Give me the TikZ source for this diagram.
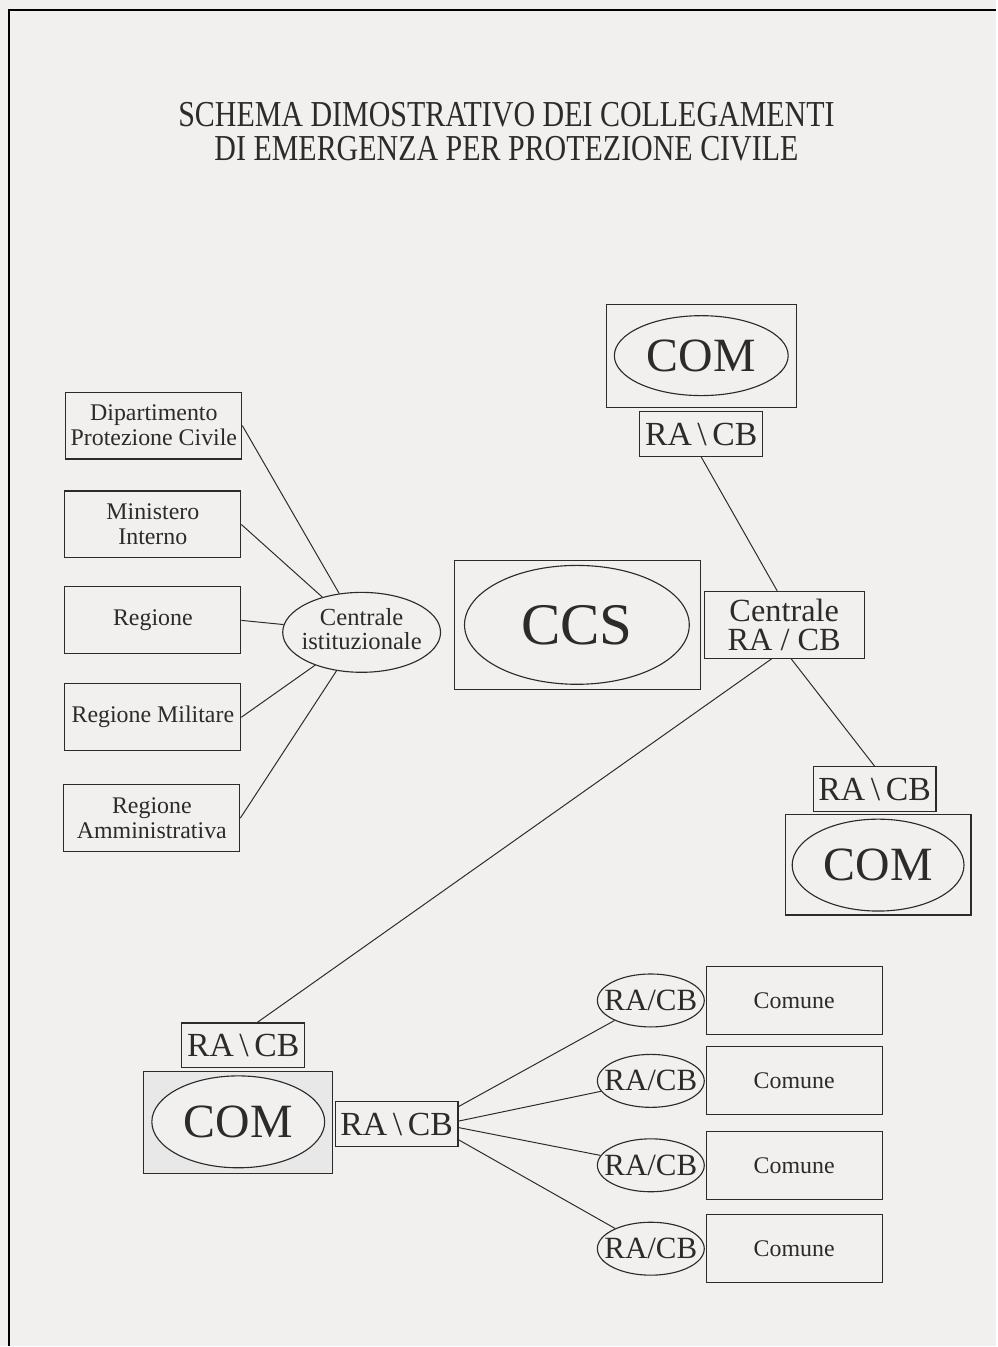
\documentclass[tikz,border=0pt]{standalone}
\usepackage{fontspec}
\setmainfont{Liberation Serif}
\usetikzlibrary{shapes.geometric}
\definecolor{paper}{HTML}{F2F0EE}
\definecolor{ink}{HTML}{2B2B2B}
\newlength{\px}
\setlength{\px}{0.025cm}
\newcommand{\fs}[2]{\fontsize{#1}{#2}\selectfont}
% testo senza larghezza, l'ellisse resta della misura data
\newcommand{\nw}[1]{\makebox[0pt]{#1}}

\begin{document}
\begin{tikzpicture}[
x=\px, y=-\px,
every node/.style={text=ink},
box/.style 2 args={draw=ink, line width=0.8pt, minimum width=#1*\px, minimum height=#2*\px, inner sep=0pt, align=center},
oval/.style 2 args={ellipse, draw=ink, line width=0.8pt, minimum width=#1*\px, minimum height=#2*\px, inner sep=0pt},
ente/.style={box={176}{67}, font=\fs{17}{18}},
racb/.style={box={123}{45}, font=\fs{24}{24}},
radio/.style={oval={107}{53}, font=\fs{22}{22}},
comune/.style={box={176}{68}, font=\fs{17}{17}},
link/.style={draw=ink, line width=0.7pt}
]

% --- Foglio ---
\fill[paper] (0,0) rectangle (997,1347);
\draw[black, line width=2pt] (9,1347) -- (9,10) -- (997,10);

% --- Titolo ---
\node (title) at (507,136) {\scalebox{0.82}[1]{\fs{26}{23.4}%
\begin{tabular}{@{}c@{}}SCHEMA DIMOSTRATIVO DEI COLLEGAMENTI\\ DI EMERGENZA PER PROTEZIONE CIVILE\end{tabular}}};

% --- Enti istituzionali ---
\node[ente] (dip) at (154,426) {Dipartimento\\Protezione Civile};
\node[ente] (min) at (153,525) {Ministero\\Interno};
\node[ente] (reg) at (153,621) {Regione};
\node[ente] (rmil) at (153,718) {Regione Militare};
\node[ente] (ramm) at (152,819) {Regione\\Amministrativa};

\node[oval={158}{80}, font=\fs{17.5}{16}] (ci) at (362,633)
  {\nw{\begin{tabular}{@{}c@{}}Centrale\\istituzionale\end{tabular}}};

\foreach \e in {dip,min,reg,rmil,ramm}
  \draw[link] (\e.east) -- (ci);

% --- CCS ---
\node[box={246}{129}] (ccsbox) at (578,625.5) {};
\node[oval={225}{119}, font=\fs{42}{42}] (ccs) at (577.5,625.5) {\nw{CCS}};

% --- COM in alto ---
\node[box={190}{103}] (comAbox) at (702,356.5) {};
\node[oval={174}{80}, font=\fs{34}{34}] (comA) at (702,356) {\nw{COM}};
\node[racb] (racbA) at (702,434.5) {RA\,\textbackslash\,CB};

% --- Centrale RA / CB ---
\node[box={160}{67}, font=\fs{23}{21}] (cra) at (785,625.5) {Centrale\\RA / CB};

% --- COM a destra ---
\node[racb] (racbB) at (875.5,790) {RA\,\textbackslash\,CB};
\node[box={186}{101}] (comBbox) at (879,865.5) {};
\node[oval={172}{92}, font=\fs{34}{34}] (comB) at (879,866) {\nw{COM}};

% --- COM in basso ---
\node[racb] (racbC) at (243.5,1046.5) {RA\,\textbackslash\,CB};
\node[box={189}{102}, fill=gray!18] (comCbox) at (238.5,1124) {};
\node[oval={173}{92}, fill=paper, font=\fs{34}{34}] (comC) at (238.5,1123) {\nw{COM}};
\node[racb] (hub) at (397,1125.5) {RA\,\textbackslash\,CB};

% --- Comuni ---
\foreach \i/\y in {1/1001.5,2/1082,3/1166.5,4/1250}{
  \node[radio] (ra\i) at (651.5,\y) {\nw{RA/CB}};
  \node[comune] (com\i) at (795,\y) {Comune};
}

% Collegamenti radio
\draw[link] (racbA.south) -- ([xshift=-5pt]cra.north);
\draw[link] ([xshift=5pt]cra.south) -- (racbB.north);
\draw[link] ([xshift=-9pt]cra.south) -- ([xshift=10pt]racbC.north);
\draw[link] (hub.16) -- (ra1);
\draw[link] (hub.3) -- (ra2);
\draw[link] (hub.-3) -- (ra3);
\draw[link] (hub.-14) -- (ra4);

\end{tikzpicture}
\end{document}
